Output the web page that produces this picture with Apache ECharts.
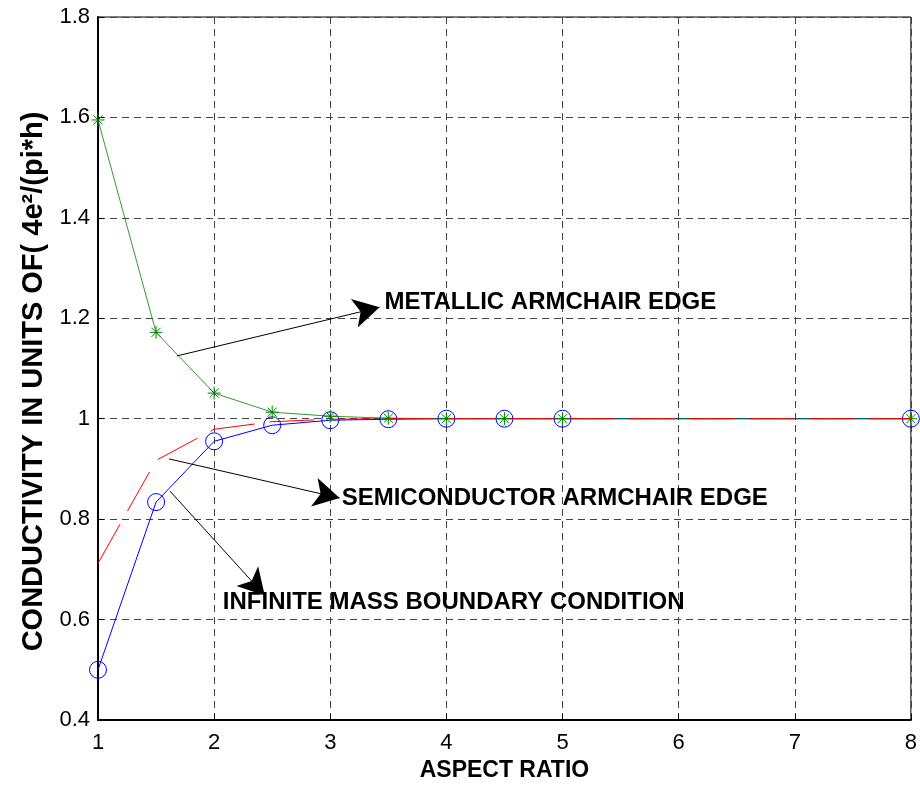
<!DOCTYPE html>
<html>
<head>
<meta charset="utf-8">
<script src="https://cdn.jsdelivr.net/npm/echarts@6/dist/echarts.min.js"></script>
<style>
  html, body { margin: 0; padding: 0; background: #fff; }
  #main { width: 920px; height: 792px; }
</style>
</head>
<body>
<div id="main"></div>
<script>
  // aspect ratio samples
  const aspectRatio = [1, 1.5, 2, 2.5, 3, 3.5, 4, 4.5, 5, 8];
  const metallic = [1.595, 1.172, 1.051, 1.013, 1.005, 1.001, 1.0, 1.0, 1.0, 1.0];
  const semiconductor = [0.712, 0.917, 0.979, 0.994, 0.999, 1.0, 1.0, 1.0, 1.0, 1.0];
  const infiniteMass = [0.50, 0.834, 0.955, 0.987, 0.997, 0.999, 1.0, 1.0, 1.0, 1.0];

  // annotation arrows: [from, to] in data units, and text anchors
  const arrows = [
    [[1.679, 1.125], [3.425, 1.222]],
    [[1.611, 0.920], [3.081, 0.842]],
    [[1.619, 0.856], [2.436, 0.648]]
  ];
  const notes = [
    { text: 'METALLIC ARMCHAIR EDGE', at: [3.468, 1.232] },
    { text: 'SEMICONDUCTOR ARMCHAIR EDGE', at: [3.098, 0.842] },
    { text: 'INFINITE MASS BOUNDARY CONDITION', at: [2.075, 0.635] }
  ];

  const pairs = (ys) => aspectRatio.map((x, i) => [x, ys[i]]);
  const FONT = 'Liberation Sans, Arial, sans-serif';
  const star = 'path://M10,0L10,20M0,10L20,10M3,3L17,17M17,3L3,17';

  const chart = echarts.init(document.getElementById('main'));

  const option = {
    animation: false,
    backgroundColor: '#fff',
    grid: {
      left: 98, right: 8, top: 17, bottom: 72,
      show: true, borderColor: '#000', borderWidth: 1, backgroundColor: '#fff'
    },
    xAxis: {
      type: 'value',
      min: 1, max: 8, interval: 1,
      name: 'ASPECT RATIO',
      nameLocation: 'middle',
      nameGap: 37,
      nameTextStyle: { fontFamily: FONT, fontWeight: 'bold', fontSize: 23, color: '#000' },
      axisLine: { show: true, lineStyle: { color: '#000', width: 2 } },
      axisTick: { show: true, inside: true, length: 6, lineStyle: { color: '#000' } },
      axisLabel: { fontFamily: FONT, fontSize: 22, color: '#000', margin: 12 },
      splitLine: { show: true, lineStyle: { color: '#444', type: [7, 5], width: 1 } }
    },
    yAxis: {
      type: 'value',
      min: 0.4, max: 1.8, interval: 0.2,
      name: 'CONDUCTIVITY IN UNITS OF( 4e²/(pi*h)',
      nameLocation: 'middle',
      nameGap: 44,
      nameTextStyle: {
        fontFamily: FONT, fontWeight: 'bold', fontSize: 29, color: '#000',
        padding: [0, 26, 0, 0]
      },
      axisLine: { show: true, lineStyle: { color: '#000', width: 2 } },
      axisTick: { show: true, inside: true, length: 6, lineStyle: { color: '#000' } },
      axisLabel: { fontFamily: FONT, fontSize: 22, color: '#000', margin: 8 },
      splitLine: { show: true, lineStyle: { color: '#444', type: [7, 5], width: 1 } }
    },
    series: [
      {
        name: 'infinite',
        type: 'line',
        data: pairs(infiniteMass),
        symbol: 'circle',
        symbolSize: 17,
        lineStyle: { color: '#0000ff', width: 1 },
        itemStyle: { color: 'rgba(0,0,0,0)', borderColor: '#0000ff', borderWidth: 1 },
        z: 3,
        markLine: {
          silent: true,
          symbol: ['none', 'arrow'],
          symbolSize: [22, 26],
          label: { show: false },
          lineStyle: { color: '#000', width: 1, type: 'solid' },
          data: arrows.map(a => [{ coord: a[0] }, { coord: a[1] }])
        },
        markPoint: {
          silent: true,
          symbol: 'circle',
          symbolSize: 0,
          label: {
            show: true, position: 'right', distance: 0,
            fontFamily: FONT, fontWeight: 'bold', fontSize: 24, color: '#000'
          },
          data: notes.map(n => ({ coord: n.at, value: n.text, label: { formatter: n.text } }))
        }
      },
      {
        name: 'metallic',
        type: 'line',
        data: pairs(metallic),
        symbol: star,
        symbolSize: 13,
        showSymbol: true,
        lineStyle: { color: '#008000', width: 1, opacity: 0.8 },
        itemStyle: { color: '#008000', borderColor: '#008000', borderWidth: 1 },
        z: 4
      },
      {
        name: 'semiconductor',
        type: 'line',
        data: pairs(semiconductor),
        showSymbol: false,
        symbol: 'none',
        lineStyle: { color: '#ff0000', width: 1, type: [45, 15] },
        z: 5
      }
    ]
  };

  chart.setOption(option);
</script>
</body>
</html>
